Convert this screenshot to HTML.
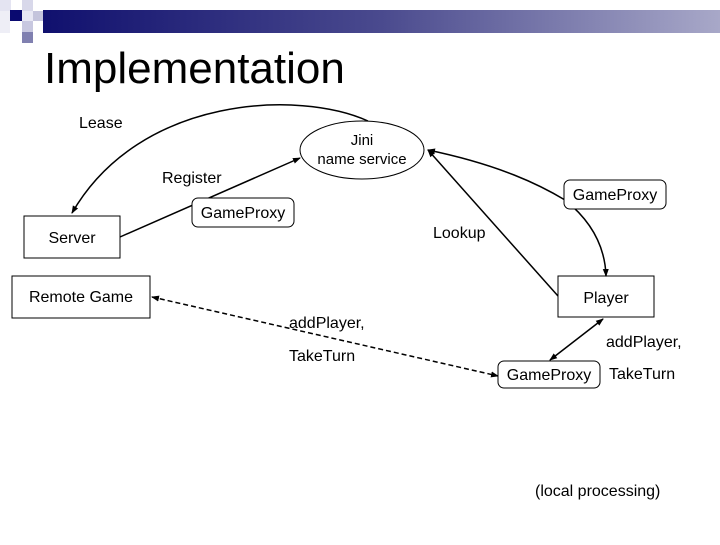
<!DOCTYPE html>
<html><head><meta charset="utf-8"><style>
html,body{margin:0;padding:0;background:#fff;}
body{width:720px;height:540px;overflow:hidden;position:relative;font-family:"Liberation Sans",Arial,sans-serif;}
svg text{font-family:"Liberation Sans",Arial,sans-serif;}
</style></head><body>
<svg width="720" height="540" viewBox="0 0 720 540" xmlns="http://www.w3.org/2000/svg">
<defs>
<linearGradient id="g" x1="0" x2="1" y1="0" y2="0">
<stop offset="0" stop-color="#10106e"/><stop offset="0.5" stop-color="#4a4a8e"/><stop offset="1" stop-color="#a8a8c8"/>
</linearGradient>
<marker id="a" markerWidth="8" markerHeight="8" refX="7" refY="4" orient="auto" markerUnits="userSpaceOnUse">
<path d="M0,1 L8,4 L0,7 z" fill="#000"/></marker>
<marker id="s" markerWidth="8" markerHeight="8" refX="1" refY="4" orient="auto" markerUnits="userSpaceOnUse">
<path d="M8,1 L0,4 L8,7 z" fill="#000"/></marker>
</defs>
<rect x="0" y="0" width="720" height="540" fill="#fff"/>
<rect x="0" y="0" width="11" height="11" fill="#e4e4f2"/>
<rect x="22" y="0" width="11" height="11" fill="#d8d8ea"/>
<rect x="0" y="11" width="10" height="22" fill="#eeeef6"/>
<rect x="10" y="10" width="12" height="11" fill="#0a0a70"/>
<rect x="22" y="11" width="11" height="10" fill="#e8e8f4"/>
<rect x="33" y="11" width="11" height="10" fill="#c4c4dc"/>
<rect x="22" y="21" width="11" height="11" fill="#c8c8e0"/>
<rect x="22" y="32" width="11" height="11" fill="#8080b0"/>
<rect x="43" y="10" width="677" height="23" fill="url(#g)"/>
<text x="44" y="83" font-size="44" fill="#000">Implementation</text>

<rect x="24" y="216" width="96" height="42" fill="#fff" stroke="#000"/>
<text x="72" y="243" font-size="16" text-anchor="middle">Server</text>
<rect x="12" y="276" width="138" height="42" fill="#fff" stroke="#000"/>
<text x="81" y="302" font-size="16" text-anchor="middle">Remote Game</text>
<rect x="558" y="276" width="96" height="41" fill="#fff" stroke="#000"/>
<text x="606" y="303" font-size="16" text-anchor="middle">Player</text>

<ellipse cx="362" cy="150" rx="62" ry="29" fill="#fff" stroke="#000"/>
<text x="362" y="145" font-size="15" text-anchor="middle">Jini</text>
<text x="362" y="164" font-size="15" text-anchor="middle">name service</text>

<path d="M368,121 C300,90 140,95 72,213" fill="none" stroke="#000" stroke-width="1.5" marker-end="url(#a)"/>
<line x1="120" y1="237" x2="300" y2="158" stroke="#000" stroke-width="1.5" marker-end="url(#a)"/>
<line x1="558" y1="296" x2="428" y2="150" stroke="#000" stroke-width="1.5" marker-end="url(#a)"/>
<path d="M428,150 C500,165 540,185 565,200 C590,220 605,245 606,276" fill="none" stroke="#000" stroke-width="1.5" marker-start="url(#s)" marker-end="url(#a)"/>
<line x1="603" y1="319" x2="550" y2="360" stroke="#000" stroke-width="1.5" marker-start="url(#s)" marker-end="url(#a)"/>
<line x1="152" y1="297" x2="498" y2="376" stroke="#000" stroke-width="1.5" stroke-dasharray="5,3" marker-start="url(#s)" marker-end="url(#a)"/>

<rect x="192" y="198" width="102" height="29" rx="6" fill="#fff" stroke="#000"/>
<text x="243" y="218" font-size="16" text-anchor="middle">GameProxy</text>
<rect x="564" y="180" width="102" height="29" rx="6" fill="#fff" stroke="#000"/>
<text x="615" y="200" font-size="16" text-anchor="middle">GameProxy</text>
<rect x="498" y="361" width="102" height="27" rx="6" fill="#fff" stroke="#000"/>
<text x="549" y="380" font-size="16" text-anchor="middle">GameProxy</text>

<text x="79" y="128" font-size="16">Lease</text>
<text x="162" y="183" font-size="16">Register</text>
<text x="433" y="238" font-size="16">Lookup</text>
<text x="289" y="328" font-size="16">addPlayer,</text>
<text x="289" y="361" font-size="16">TakeTurn</text>
<text x="606" y="347" font-size="16">addPlayer,</text>
<text x="609" y="379" font-size="16">TakeTurn</text>
<text x="535" y="496" font-size="16">(local processing)</text>
</svg>
</body></html>
